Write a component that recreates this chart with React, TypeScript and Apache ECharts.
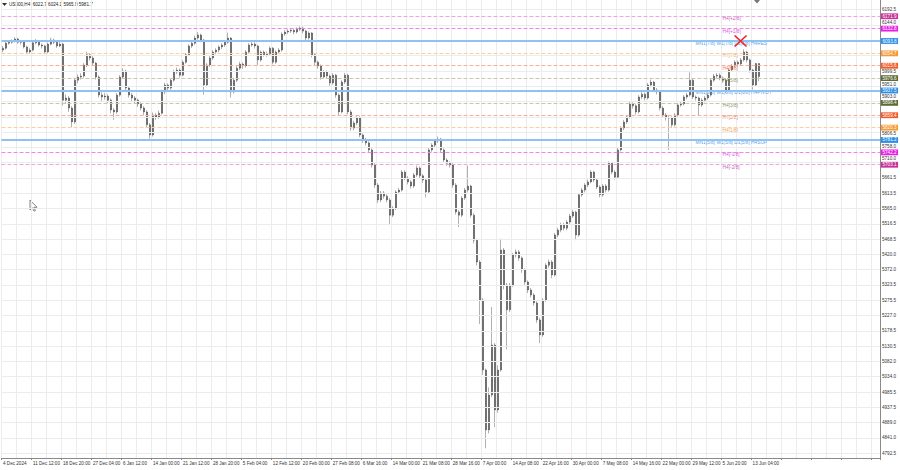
import React, { useEffect, useRef } from 'react';
import * as echarts from 'echarts';

const titleText = 'US500,H4  6022.7 6024.1 5965.9 5981.7';

const timeLabels = ['4 Dec 2024', '11 Dec 12:00', '18 Dec 20:00', '27 Dec 04:00', '6 Jan 12:00', '14 Jan 00:00', '21 Jan 12:00', '28 Jan 20:00', '5 Feb 04:00', '12 Feb 12:00', '20 Feb 00:00', '27 Feb 08:00', '6 Mar 16:00', '14 Mar 00:00', '21 Mar 08:00', '28 Mar 16:00', '7 Apr 00:00', '14 Apr 08:00', '22 Apr 16:00', '30 Apr 00:00', '7 May 08:00', '14 May 16:00', '22 May 00:00', '29 May 12:00', '5 Jun 20:00', '13 Jun 04:00'];

const priceTicks = [6192.5, 6144.0, 6096.0, 6047.5, 5999.5, 5951.0, 5903.0, 5854.5, 5806.5, 5758.0, 5710.0, 5661.5, 5613.5, 5565.0, 5516.5, 5468.5, 5420.0, 5372.0, 5323.5, 5275.5, 5227.0, 5178.5, 5130.5, 5082.0, 5034.0, 4985.5, 4937.5, 4889.0, 4841.0, 4792.5];
// tick labels hidden under the coloured level boxes in the reference
const coveredTicks = [6096.0, 6047.5, 5854.5];

// [open, close, low, high] for each displayed bar
const bars = [
  [6065, 6071, 6058, 6078], [6071, 6087, 6066, 6092], [6087, 6090, 6082, 6096], [6090, 6094, 6085, 6099], [6094, 6100, 6089, 6106],
  [6100, 6090, 6085, 6104], [6090, 6091, 6083, 6097], [6091, 6075, 6070, 6094], [6075, 6059, 6052, 6079], [6059, 6065, 6054, 6071],
  [6065, 6088, 6061, 6093], [6088, 6094, 6083, 6100], [6094, 6081, 6076, 6097], [6081, 6078, 6070, 6086], [6078, 6059, 6052, 6082],
  [6059, 6084, 6055, 6089], [6084, 6097, 6080, 6104], [6097, 6090, 6084, 6101], [6090, 6078, 6072, 6094], [6078, 6084, 6074, 6090],
  [6084, 5907, 5890, 6088], [5907, 5914, 5895, 5925], [5914, 5882, 5870, 5920], [5882, 5838, 5822, 5888], [5838, 5970, 5832, 5978],
  [5970, 5980, 5960, 5988], [5980, 5983, 5972, 5992], [5983, 6018, 5978, 6024], [6018, 6050, 6012, 6060], [6050, 6040, 6032, 6056],
  [6040, 6024, 6016, 6046], [6024, 5980, 5972, 6028], [5980, 5923, 5915, 5985], [5923, 5917, 5905, 5932], [5917, 5920, 5908, 5930],
  [5920, 5907, 5898, 5926], [5907, 5876, 5866, 5912], [5876, 5870, 5845, 5882], [5870, 5923, 5864, 5930], [5923, 5980, 5918, 5986],
  [5980, 5999, 5975, 6008], [5999, 5945, 5938, 6003], [5945, 5923, 5915, 5950], [5923, 5914, 5905, 5930], [5914, 5907, 5898, 5920],
  [5907, 5895, 5886, 5912], [5895, 5882, 5874, 5900], [5882, 5870, 5860, 5888], [5870, 5829, 5820, 5875], [5829, 5797, 5785, 5835],
  [5797, 5860, 5792, 5868], [5860, 5854, 5845, 5866], [5854, 5866, 5848, 5874], [5866, 5933, 5862, 5940], [5933, 5955, 5926, 5962],
  [5955, 5945, 5936, 5960], [5945, 5970, 5940, 5977], [5970, 5996, 5965, 6003], [5996, 6002, 5990, 6010], [6002, 5986, 5978, 6007],
  [5986, 6027, 5982, 6033], [6027, 6050, 6022, 6056], [6050, 6078, 6046, 6084], [6078, 6087, 6072, 6093], [6087, 6103, 6082, 6110],
  [6103, 6113, 6098, 6122], [6113, 6097, 6090, 6117], [6097, 5955, 5924, 6100], [5955, 6018, 5948, 6024], [6018, 6040, 6012, 6046],
  [6040, 6059, 6034, 6065], [6059, 6065, 6052, 6071], [6065, 6075, 6058, 6080], [6075, 6081, 6068, 6087], [6081, 6090, 6075, 6096],
  [6090, 6103, 6085, 6120], [6103, 5933, 5915, 6106], [5933, 5970, 5928, 5978], [5970, 6008, 5964, 6014], [6008, 6021, 6002, 6028],
  [6021, 6015, 6006, 6026], [6015, 6059, 6010, 6065], [6059, 6081, 6054, 6087], [6081, 6084, 6076, 6090], [6084, 6078, 6070, 6090],
  [6078, 6034, 6018, 6082], [6034, 6059, 6028, 6064], [6059, 6050, 6044, 6064], [6050, 6053, 6044, 6060], [6053, 6071, 6048, 6077],
  [6071, 6027, 6020, 6075], [6027, 6059, 6022, 6064], [6059, 6065, 6054, 6071], [6065, 6116, 6060, 6121], [6116, 6122, 6110, 6128],
  [6122, 6125, 6116, 6131], [6125, 6128, 6119, 6134], [6128, 6122, 6115, 6133], [6122, 6131, 6117, 6137], [6131, 6135, 6125, 6140],
  [6135, 6125, 6118, 6139], [6125, 6103, 6096, 6129], [6103, 6119, 6098, 6124], [6119, 6050, 6042, 6122], [6050, 6027, 6018, 6056],
  [6027, 6015, 6006, 6032], [6015, 5980, 5972, 6020], [5980, 5996, 5975, 6002], [5996, 5983, 5976, 6001], [5983, 5961, 5952, 5988],
  [5961, 5986, 5956, 5992], [5986, 5923, 5915, 5990], [5923, 5870, 5860, 5928], [5870, 5964, 5865, 5970], [5964, 5986, 5958, 5993],
  [5986, 5870, 5862, 5990], [5870, 5819, 5810, 5876], [5819, 5835, 5812, 5842], [5835, 5851, 5828, 5858], [5851, 5797, 5790, 5856],
  [5797, 5781, 5772, 5802], [5781, 5772, 5764, 5788], [5772, 5750, 5740, 5777], [5750, 5702, 5694, 5755], [5702, 5639, 5630, 5708],
  [5639, 5592, 5582, 5645], [5592, 5614, 5585, 5620], [5614, 5604, 5596, 5620], [5604, 5592, 5584, 5610], [5592, 5544, 5516, 5598],
  [5544, 5566, 5538, 5572], [5566, 5617, 5560, 5623], [5617, 5623, 5610, 5630], [5623, 5680, 5618, 5686], [5680, 5661, 5654, 5686],
  [5661, 5649, 5641, 5667], [5649, 5636, 5628, 5654], [5636, 5671, 5630, 5677], [5671, 5693, 5665, 5700], [5693, 5668, 5660, 5698],
  [5668, 5655, 5646, 5674], [5655, 5617, 5600, 5660], [5617, 5750, 5612, 5756], [5750, 5765, 5744, 5771], [5765, 5778, 5759, 5784],
  [5778, 5784, 5772, 5792], [5784, 5750, 5742, 5788], [5750, 5718, 5710, 5755], [5718, 5708, 5700, 5724], [5708, 5702, 5694, 5714],
  [5702, 5639, 5630, 5708], [5639, 5554, 5546, 5645], [5554, 5544, 5506, 5560], [5544, 5598, 5538, 5604], [5598, 5623, 5592, 5630],
  [5623, 5636, 5616, 5700], [5636, 5544, 5536, 5640], [5544, 5465, 5455, 5550], [5465, 5396, 5385, 5470], [5396, 5276, 5200, 5402],
  [5276, 5055, 5040, 5282], [5055, 4866, 4808, 5060], [4866, 4976, 4855, 5000], [4976, 5134, 4970, 5254], [5134, 4929, 4875, 5140],
  [4929, 5055, 4920, 5070], [5055, 5434, 5050, 5470], [5434, 5323, 5310, 5440], [5323, 5245, 5120, 5330], [5245, 5323, 5238, 5330],
  [5323, 5418, 5317, 5425], [5418, 5428, 5410, 5436], [5428, 5409, 5400, 5434], [5409, 5371, 5362, 5414], [5371, 5333, 5324, 5376],
  [5333, 5308, 5298, 5338], [5308, 5292, 5284, 5314], [5292, 5267, 5258, 5298], [5267, 5213, 5204, 5272], [5213, 5166, 5140, 5220],
  [5166, 5276, 5160, 5282], [5276, 5386, 5270, 5392], [5386, 5396, 5378, 5404], [5396, 5355, 5345, 5402], [5355, 5481, 5350, 5488],
  [5481, 5497, 5474, 5504], [5497, 5513, 5490, 5520], [5513, 5503, 5495, 5520], [5503, 5522, 5496, 5528], [5522, 5541, 5516, 5548],
  [5541, 5554, 5535, 5560], [5554, 5481, 5465, 5558], [5481, 5608, 5476, 5614], [5608, 5623, 5602, 5630], [5623, 5639, 5616, 5645],
  [5639, 5649, 5632, 5656], [5649, 5680, 5644, 5686], [5680, 5655, 5648, 5684], [5655, 5633, 5626, 5660], [5633, 5608, 5600, 5638],
  [5608, 5636, 5602, 5642], [5636, 5623, 5616, 5642], [5623, 5708, 5618, 5714], [5708, 5680, 5673, 5712], [5680, 5664, 5656, 5686],
  [5664, 5750, 5660, 5756], [5750, 5819, 5745, 5825], [5819, 5838, 5812, 5845], [5838, 5854, 5832, 5860], [5854, 5895, 5849, 5902],
  [5895, 5889, 5880, 5900], [5889, 5870, 5862, 5894], [5870, 5917, 5865, 5923], [5917, 5926, 5910, 5933], [5926, 5914, 5906, 5931],
  [5914, 5955, 5909, 5961], [5955, 5964, 5948, 5972], [5964, 5939, 5932, 5968], [5939, 5933, 5925, 5945], [5933, 5882, 5874, 5938],
  [5882, 5860, 5852, 5888], [5860, 5851, 5843, 5866], [5851, 5851, 5750, 5858], [5851, 5829, 5820, 5856], [5829, 5860, 5824, 5866],
  [5860, 5892, 5855, 5898], [5892, 5895, 5886, 5902], [5895, 5917, 5890, 5923], [5917, 5923, 5910, 5930], [5923, 5970, 5918, 5995],
  [5970, 5917, 5910, 5975], [5917, 5914, 5906, 5922], [5914, 5892, 5860, 5918], [5892, 5907, 5886, 5913], [5907, 5914, 5900, 5920],
  [5914, 5923, 5908, 5930], [5923, 5970, 5918, 5976], [5970, 5983, 5964, 5990], [5983, 5986, 5977, 5993], [5986, 5977, 5970, 5992],
  [5977, 5970, 5962, 5982], [5970, 5939, 5930, 5975], [5939, 6002, 5934, 6008], [6002, 6015, 5996, 6021], [6015, 6027, 6010, 6033],
  [6027, 6021, 6014, 6032], [6021, 6034, 6016, 6040], [6034, 6059, 6029, 6068], [6059, 6034, 6026, 6063], [6034, 6002, 5994, 6038],
  [6002, 5955, 5940, 6006], [5955, 6022.7, 5950, 6024], [6022.7, 5981.7, 5965.9, 6024.1],
];

const levelValues = [6171.88, 6132.81, 6093.75, 6054.69, 6015.63, 5976.56, 5937.5, 5898.44, 5859.38, 5820.31, 5781.25, 5742.19, 5703.13];
const levelBoxLabels = ['6171.9', '6132.8', '6093.8', '6054.7', '6015.6', '5976.6', '5937.5', '5898.4', '5859.4', '5820.3', '5781.2', '5742.2', '5703.1'];
const levelNames = ['H4[+2/8]', 'H4[+1/8]', 'MN1[7/8] W1[7/8] D1[8/8] H4RES', 'H4[7/8]', 'H4[6/8]', 'H4[5/8]', 'MN1[6/8] W1[6/8] D1[6/8] H4PIVOT', 'H4[3/8]', 'H4[2/8]', 'H4[1/8]', 'MN1[5/8] W1[5/8] D1[5/8] H4SUP', 'H4[-1/8]', 'H4[-2/8]'];
const levelKinds = ['p2', 'p1', 'main', 'o', 'r', 'g', 'main', 'g', 'r', 'o', 'main', 'p1', 'p2'];
const levelTextIndex = [240, 240, 231, 240, 240, 240, 231, 240, 240, 240, 231, 240, 240];

const lastPrice = 5981.7;
const crossMark = { index: 246, price: 6093.75 };

const TOTAL_SLOTS = 293;
const FONT = 'Liberation Sans';
const Y_MIN = 4777.3;
const Y_MAX = 6223.2;
const PLOT_H = 458;

const kindStyle: Record<string, any> = {
  p2: { line: '#eda6df', type: 'dashed', width: 1, box: '#c8319a', text: '#b5309f' },
  p1: { line: '#f084ee', type: 'dashed', width: 1, box: '#e81ee6', text: '#d41ad2' },
  main: { line: '#8fc2f3', type: 'solid', width: 2, box: '#2b8ee8', text: '#1f86e6' },
  o: { line: '#f9cfa6', type: 'dashed', width: 1, box: '#f59a35', text: '#ee8a1c' },
  r: { line: '#f6b09a', type: 'dashed', width: 1, box: '#f25a28', text: '#ec4f1c' },
  g: { line: '#c9c6ae', type: 'dashed', width: 1, box: '#5f6a36', text: '#6f7536' },
};

export default function App() {
  const ref = useRef<HTMLDivElement>(null);
  useEffect(() => {
    const chart = echarts.init(ref.current!, null, { renderer: 'svg' });
    const cats = Array.from({ length: TOTAL_SLOTS }, (_, i) => String(i));
    const pxPerPoint = PLOT_H / (Y_MAX - Y_MIN);
    const boxPrices = levelValues.concat([lastPrice]);

    // keep each price label clear of the nearest coloured box
    const tickOffset = (v: number) => {
      let best = 0;
      let bestAbs = Infinity;
      boxPrices.forEach((b) => {
        const d = (v - b) * pxPerPoint;
        if (Math.abs(d) < bestAbs) { bestAbs = Math.abs(d); best = d; }
      });
      const need = 5.9;
      if (bestAbs >= need) return 0;
      return best > 0 ? -(need - bestAbs) : need - bestAbs;
    };

    const gridLines = priceTicks.map((v) => ({
      yAxis: v,
      lineStyle: { color: '#ececec', type: 'solid', width: 1 },
      label: {
        show: coveredTicks.indexOf(v) < 0, position: 'end', distance: 2, offset: [0, tickOffset(v)],
        formatter: v.toFixed(1),
        color: '#333', fontSize: 4.6, fontFamily: FONT,
      },
    }));

    const levelLines: any[] = levelValues.map((v, i) => {
      const s = kindStyle[levelKinds[i]];
      return {
        yAxis: v,
        lineStyle: { color: s.line, type: s.type, width: s.width },
        label: {
          show: true, position: 'end', distance: 1, formatter: levelBoxLabels[i],
          color: '#fff', fontSize: 4.6, fontFamily: FONT,
          backgroundColor: s.box, padding: [0.6, 1.5, 0.2, 1.5],
        },
      };
    });
    levelLines.push({
      yAxis: lastPrice,
      lineStyle: { color: '#000', type: 'solid', width: 0, opacity: 0 },
      label: {
        show: true, position: 'end', distance: 1, formatter: lastPrice.toFixed(1),
        color: '#fff', fontSize: 4.6, fontFamily: FONT,
        backgroundColor: '#111', padding: [0.6, 1.5, 0.2, 1.5],
      },
    });

    const levelTexts = levelValues.map((v, i) => ({
      value: [levelTextIndex[i], v],
      label: {
        show: true, position: 'right', distance: 0, offset: [0, 2.5],
        formatter: levelNames[i], color: kindStyle[levelKinds[i]].text,
        fontSize: 4.8, fontFamily: FONT,
      },
    }));

    const option: any = {
      animation: false,
      backgroundColor: '#ffffff',
      grid: { left: 0, right: 20, top: 0, bottom: 470 - PLOT_H, containLabel: false },
      xAxis: {
        type: 'category', data: cats, boundaryGap: true,
        axisLine: { show: true, lineStyle: { color: '#8a8a8a', width: 1 } },
        axisTick: { show: true, interval: (i: number) => i % 10 === 0, length: 2, lineStyle: { color: '#8a8a8a' } },
        axisLabel: {
          show: true, interval: (i: number) => i % 10 === 0,
          formatter: (_v: string, i: number) => (i % 10 === 0 && timeLabels[i / 10]) ? timeLabels[i / 10] : '',
          align: 'left', fontSize: 4.6, color: '#333', margin: 3, fontFamily: FONT,
        },
        splitLine: { show: true, interval: (i: number) => i % 5 === 0, lineStyle: { color: '#ececec', width: 1 } },
      },
      yAxis: {
        type: 'value', position: 'right', min: Y_MIN, max: Y_MAX, scale: true,
        axisLine: { show: true, lineStyle: { color: '#8a8a8a', width: 1 } },
        axisLabel: { show: false }, axisTick: { show: false }, splitLine: { show: false },
      },
      series: [
        {
          name: 'grid', type: 'line', data: [], z: 1, silent: true,
          markLine: { silent: true, symbol: ['none', 'none'], animation: false, data: gridLines },
        },
        {
          name: 'levels', type: 'line', data: [], z: 2, silent: true,
          markLine: { silent: true, symbol: ['none', 'none'], animation: false, data: levelLines },
        },
        {
          name: 'US500', type: 'candlestick', z: 3, barWidth: 1.4,
          data: bars,
          itemStyle: { color: '#2e2e2e', color0: '#2e2e2e', borderColor: '#3a3a3a', borderColor0: '#3a3a3a', borderWidth: 0.4 },
          markPoint: {
            silent: true, animation: false,
            data: [{
              coord: [crossMark.index, crossMark.price],
              symbol: 'path://M0 0L10 10M10 0L0 10', symbolSize: [12, 11],
              itemStyle: { color: 'none', borderColor: '#f0252f', borderWidth: 1.6 },
              label: { show: false },
            }],
          },
        },
        {
          name: 'levelText', type: 'scatter', z: 4, silent: true, symbolSize: 0,
          data: levelTexts,
        },
      ],
      graphic: [
        { type: 'polygon', shape: { points: [[2, 3], [7, 3], [4.5, 6]] }, style: { fill: '#333' } },
        { type: 'text', x: 9, y: 2, style: { text: titleText, fontSize: 4.6, fill: '#222', fontFamily: FONT } },
        { type: 'polygon', shape: { points: [[754, 0], [760, 0], [757, 3.5]] }, style: { fill: '#777' } },
        {
          type: 'polygon',
          shape: { points: [[30, 200], [30, 210], [32.4, 207.8], [34, 211.2], [35.4, 210.6], [33.9, 207.3], [37, 207.3]] },
          style: { fill: '#fff', stroke: '#666', lineWidth: 0.8 },
        },
      ],
    };
    chart.setOption(option);
    return () => chart.dispose();
  }, []);
  return <div ref={ref} style={{ position: 'absolute', left: 0, top: 0, width: 900, height: 470, background: '#fff' }} />;
}
